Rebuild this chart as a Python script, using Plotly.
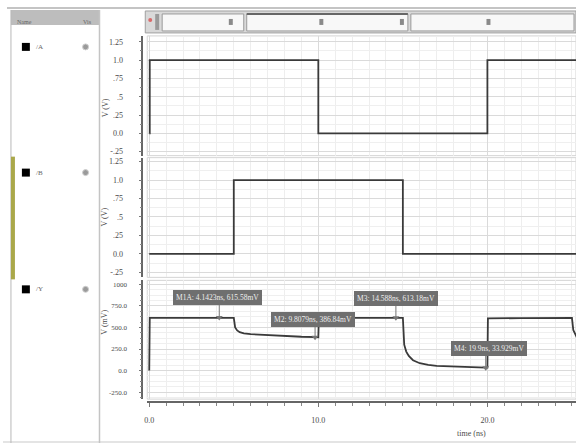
import plotly.graph_objects as go

# ---------------- data ----------------
a_time = [0.0, 0.03, 10.0, 20.0, 25.3]
a_volt = [0.0, 1.0, 0.0, 1.0, 1.0]

b_time = [0.0, 5.0, 15.0, 25.3]
b_volt = [0.0, 1.0, 0.0, 0.0]

y_time = [0.0, 0.03, 2.0, 4.16, 5.0, 5.08, 5.2, 5.35, 5.6, 6.0, 7.0, 8.0, 9.0, 9.9, 10.0,
          10.03, 12.0, 14.59, 15.0, 15.08, 15.2, 15.35, 15.6, 16.0, 16.5, 17.0, 18.0, 19.0,
          19.9, 20.0, 20.03, 22.0, 25.0, 25.08, 25.3]
y_mv = [0.0, 610, 612, 615, 612, 500, 465, 445, 432, 422, 410, 400, 392, 387, 386,
        610, 612, 613, 612, 300, 220, 170, 120, 85, 65, 55, 45, 38,
        34, 34, 605, 608, 610, 470, 380]

marker_names = ["M1A", "M2", "M3", "M4"]
marker_time = [4.1423, 9.8079, 14.588, 19.9]
marker_mv = [615.58, 386.84, 613.18, 33.929]
label_time = [4.06, 9.7, 14.6, 20.1]
label_mv = [845, 590, 833, 255]

x_tickvals = [0, 10, 20]
x_ticktext = ["0.0", "10.0", "20.0"]
v_tickvals = [-0.25, 0, 0.25, 0.5, 0.75, 1.0, 1.25]
v_ticktext = ["-.25", "0.0", ".25", ".5", ".75", "1.0", "1.25"]
mv_tickvals = [-250, 0, 250, 500, 750, 1000]
mv_ticktext = ["-250.0", "0.0", "250.0", "500.0", "750.0", "1000"]
signal_names = ["/A", "/B", "/Y"]

# ---------------- helpers ----------------
W, H = 576, 444
def px(x):
    return x / W
def py(y):
    return 1 - y / H

FONT = "Liberation Serif"
LINE = "#3a3a3a"
TXT = "#4a4a4a"

fig = go.Figure()
fig.add_trace(go.Scatter(x=a_time, y=a_volt, mode="lines", line=dict(color=LINE, width=1.8, shape="hv"),
                         xaxis="x", yaxis="y", showlegend=False, hoverinfo="skip"))
fig.add_trace(go.Scatter(x=b_time, y=b_volt, mode="lines", line=dict(color=LINE, width=1.8, shape="hv"),
                         xaxis="x2", yaxis="y2", showlegend=False, hoverinfo="skip"))
fig.add_trace(go.Scatter(x=y_time, y=y_mv, mode="lines", line=dict(color=LINE, width=1.8),
                         xaxis="x3", yaxis="y3", showlegend=False, hoverinfo="skip"))
# marker pointers
for i in range(len(marker_names)):
    fig.add_trace(go.Scatter(x=[marker_time[i], marker_time[i]], y=[label_mv[i], marker_mv[i]],
                             mode="lines", line=dict(color="#777777", width=1),
                             xaxis="x3", yaxis="y3", showlegend=False, hoverinfo="skip"))
fig.add_trace(go.Scatter(x=marker_time, y=marker_mv, mode="markers",
                         marker=dict(symbol="triangle-down", size=6, color="#777777"),
                         xaxis="x3", yaxis="y3", showlegend=False, hoverinfo="skip"))

xdom = [px(145), 1.0]
xrng = [-0.118, 25.24]
panels = [
    (py(156), py(36), [-0.305, 1.33], v_tickvals, v_ticktext, 0.125, 8),
    (py(278), py(158), [-0.318, 1.304], v_tickvals, v_ticktext, 0.125, 8),
    (py(400), py(281), [-331, 1046], mv_tickvals, mv_ticktext, 62.5, 7),
]

layout = dict(width=W, height=H, margin=dict(l=0, r=0, t=0, b=0),
              paper_bgcolor="white", plot_bgcolor="white",
              font=dict(family=FONT, size=8, color=TXT))
for i, (d0, d1, rng, tv, tt, mdt, fs) in enumerate(panels):
    xn = "xaxis" if i == 0 else f"xaxis{i+1}"
    yn = "yaxis" if i == 0 else f"yaxis{i+1}"
    yref = "y" if i == 0 else f"y{i+1}"
    xa = dict(domain=xdom, range=xrng, anchor=yref, showticklabels=False, ticks="",
              tickvals=x_tickvals, showgrid=True, gridcolor="#dadada", gridwidth=1,
              zeroline=False, showline=False,
              minor=dict(dtick=1, tick0=0, showgrid=True, gridcolor="#eeeeee"))
    if i == 2:
        xa.update(anchor="free", position=py(403), showticklabels=True, ticktext=x_ticktext,
                  showline=True, linecolor="#666666", linewidth=1.5, ticks="outside",
                  ticklen=4, tickcolor="#777777", ticklabelstandoff=7,
                  tickfont=dict(family=FONT, size=8, color=TXT),
                  minor=dict(dtick=1, tick0=0, showgrid=True, gridcolor="#eeeeee",
                             ticks="outside", ticklen=3, tickcolor="#888888"))
    layout[xn] = xa
    layout[yn] = dict(domain=[d0, d1], range=rng, anchor="free", position=px(140),
                      tickvals=tv, ticktext=tt, showgrid=True, gridcolor="#dadada",
                      zeroline=False, showline=True, linecolor="#666666", linewidth=1.5,
                      ticks="outside", ticklen=3, tickcolor="#777777",
                      ticklabelstandoff=14 if i < 2 else 10,
                      tickfont=dict(family=FONT, size=fs, color=TXT),
                      minor=dict(dtick=mdt, showgrid=True, gridcolor="#efefef",
                                 ticks="outside", ticklen=2, tickcolor="#888888"))
fig.update_layout(**layout)

shapes = []
annotations = []
# plot frames
for (d0, d1, *_r) in panels:
    shapes.append(dict(type="rect", xref="paper", yref="paper", x0=xdom[0], x1=1.0, y0=d0, y1=d1,
                       line=dict(color="#d4d4d4", width=1), layer="below"))

# axis titles
for txt, yc in [("V (V)", 97), ("V (V)", 218), ("V (mV)", 338)]:
    annotations.append(dict(text=txt, x=px(96), y=py(yc), xref="paper", yref="paper",
                            showarrow=False, textangle=-90, font=dict(family=FONT, size=8, color=TXT)))
annotations.append(dict(text="time (ns)", x=px(488), y=py(441), xref="paper", yref="paper",
                        showarrow=False, font=dict(family=FONT, size=8, color=TXT)))

# marker labels
for i in range(len(marker_names)):
    annotations.append(dict(text=f"{marker_names[i]}: {marker_time[i]}ns, {marker_mv[i]}mV",
                            x=label_time[i], y=label_mv[i], xref="x3", yref="y3", showarrow=False,
                            bgcolor="#6f6f6f", bordercolor="#6f6f6f", borderpad=2,
                            font=dict(family=FONT, size=7.5, color="#eeeeee")))

# left signal panel
shapes.append(dict(type="line", xref="paper", yref="paper", x0=px(4), x1=1.0, y0=py(8), y1=py(8),
                   line=dict(color="#b0b0b0", width=1.5)))
shapes.append(dict(type="rect", xref="paper", yref="paper", x0=px(8), x1=px(97), y0=py(25), y1=py(10),
                   fillcolor="#bdbdbd", line=dict(width=0)))
shapes.append(dict(type="line", xref="paper", yref="paper", x0=px(8), x1=px(8), y0=0, y1=py(10),
                   line=dict(color="#b8b8b8", width=1)))
shapes.append(dict(type="line", xref="paper", yref="paper", x0=px(97), x1=px(97), y0=0, y1=py(10),
                   line=dict(color="#c4c4c4", width=1.5)))
shapes.append(dict(type="rect", xref="paper", yref="paper", x0=px(8), x1=px(12), y0=py(280), y1=py(157),
                   fillcolor="#aaa84a", line=dict(width=0)))
annotations.append(dict(text="Name", x=px(12), y=py(17), xref="paper", yref="paper", xanchor="left",
                        showarrow=False, font=dict(family=FONT, size=6, color="#666666")))
annotations.append(dict(text="Vis", x=px(78), y=py(17), xref="paper", yref="paper", xanchor="left",
                        showarrow=False, font=dict(family=FONT, size=6, color="#666666")))
for name, yc in zip(signal_names, [47, 173, 290]):
    shapes.append(dict(type="rect", xref="paper", yref="paper", x0=px(19), x1=px(27),
                       y0=py(yc + 4), y1=py(yc - 4), fillcolor="black", line=dict(width=0)))
    shapes.append(dict(type="circle", xref="paper", yref="paper", x0=px(80), x1=px(86),
                       y0=py(yc + 3), y1=py(yc - 3), fillcolor="#9a9a9a", line=dict(color="#cfcfcf", width=1)))
    annotations.append(dict(text=name, x=px(31), y=py(yc), xref="paper", yref="paper", xanchor="left",
                            yanchor="middle", showarrow=False, font=dict(family=FONT, size=7, color="#666666")))

# top overview strip
shapes.append(dict(type="rect", xref="paper", yref="paper", x0=px(143), x1=px(576), y0=py(33), y1=py(11),
                   fillcolor="#d9d9d9", line=dict(color="#a0a0a0", width=1)))
for x0, x1 in [(160, 242), (245, 407), (410, 574)]:
    shapes.append(dict(type="rect", xref="paper", yref="paper", x0=px(x0), x1=px(x1), y0=py(31), y1=py(14),
                       fillcolor="#f8f8f8", line=dict(color="#9a9a9a", width=1)))
shapes.append(dict(type="line", xref="paper", yref="paper", x0=px(245), x1=px(407), y0=py(14), y1=py(14),
                   line=dict(color="#666666", width=2)))
for xm in [229, 320, 401, 488]:
    shapes.append(dict(type="rect", xref="paper", yref="paper", x0=px(xm - 2), x1=px(xm + 2),
                       y0=py(25), y1=py(19), fillcolor="#8a8a8a", line=dict(width=0)))
shapes.append(dict(type="circle", xref="paper", yref="paper", x0=px(146), x1=px(150), y0=py(22), y1=py(18),
                   fillcolor="#d86a6a", line=dict(width=0)))
shapes.append(dict(type="rect", xref="paper", yref="paper", x0=px(153), x1=px(157), y0=py(30), y1=py(14),
                   fillcolor="#9a9a9a", line=dict(width=0)))
# bottom shading
shapes.append(dict(type="rect", xref="paper", yref="paper", x0=0, x1=1, y0=0, y1=py(442),
                   fillcolor="#e4e4e4", line=dict(width=0), layer="below"))

fig.update_layout(shapes=shapes, annotations=annotations)
fig.write_html("out.html", config={"displayModeBar": False},
               post_script="document.body.style.margin='0';")
